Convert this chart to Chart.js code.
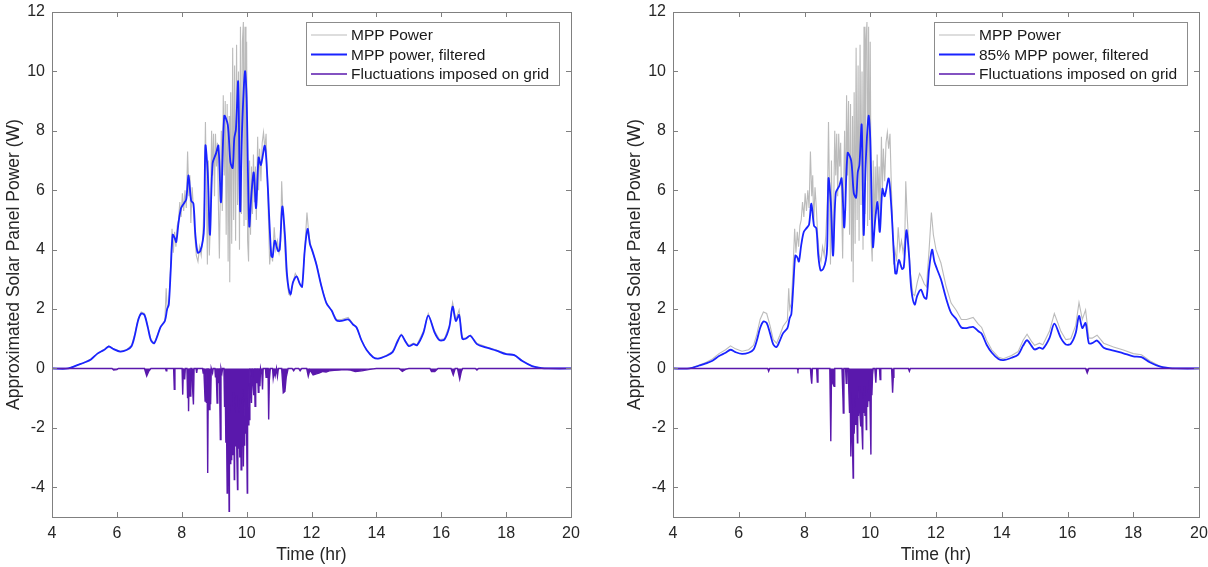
<!DOCTYPE html>
<html>
<head>
<meta charset="utf-8">
<script src="https://cdn.jsdelivr.net/npm/chart.js@4.4.0/dist/chart.umd.min.js"></script>
<style>
  body { margin: 0; background: #fff; }
  #wrap { position: relative; width: 1208px; height: 567px; }
  canvas { position: absolute; top: 0; }
</style>
</head>
<body>
<div id="wrap">
  <canvas id="left" width="604" height="567" style="left:0"></canvas>
  <canvas id="right" width="604" height="567" style="left:604px"></canvas>
</div>
<script>
// axis ticks
var xTicks = [4, 6, 8, 10, 12, 14, 16, 18, 20];
var yTicks = [-4, -2, 0, 2, 4, 6, 8, 10, 12];

// raw MPP power (same in both panels)
var mppTime = [
  4.0, 4.5, 4.8, 5.0, 5.2, 5.4, 5.6, 5.75, 5.9, 6.1,
  6.3, 6.45, 6.55, 6.65, 6.75, 6.85, 6.95, 7.05, 7.15, 7.25,
  7.35, 7.48, 7.52, 7.55, 7.6, 7.65, 7.7, 7.74, 7.78, 7.82,
  7.86, 7.9, 7.94, 7.98, 8.02, 8.06, 8.1, 8.14, 8.18, 8.22,
  8.25, 8.28, 8.32, 8.36, 8.4, 8.45, 8.5, 8.55, 8.6, 8.65,
  8.7, 8.73, 8.76, 8.79, 8.82, 8.85, 8.88, 8.92, 8.95, 8.98,
  9.01, 9.04, 9.07, 9.1, 9.13, 9.16, 9.19, 9.22, 9.25, 9.28,
  9.31, 9.34, 9.37, 9.4, 9.43, 9.46, 9.48, 9.51, 9.54, 9.57,
  9.6, 9.63, 9.66, 9.69, 9.72, 9.75, 9.78, 9.81, 9.84, 9.87,
  9.9, 9.92, 9.95, 9.98, 10.0, 10.03, 10.06, 10.09, 10.12, 10.15,
  10.18, 10.21, 10.24, 10.27, 10.3, 10.34, 10.37, 10.4, 10.44, 10.48,
  10.52, 10.56, 10.6, 10.64, 10.68, 10.71, 10.75, 10.8, 10.85, 10.9,
  10.95, 11.0, 11.05, 11.08, 11.12, 11.16, 11.22, 11.3, 11.35, 11.43,
  11.5, 11.55, 11.64, 11.71, 11.79, 11.86, 11.92, 12.0, 12.15, 12.31,
  12.46, 12.62, 12.77, 12.93, 13.13, 13.28, 13.39, 13.54, 13.7, 13.9,
  14.05, 14.3, 14.5, 14.65, 14.77, 14.9, 15.0, 15.15, 15.25, 15.45,
  15.6, 15.8, 15.95, 16.1, 16.25, 16.35, 16.45, 16.55, 16.65, 16.75,
  16.9, 17.1, 17.4, 17.7, 18.0, 18.25, 18.5, 18.8, 19.1, 19.3,
  20
];
var mppPower = [
  0, 0, 0.12, 0.2, 0.32, 0.5, 0.63, 0.76, 0.66, 0.58,
  0.63, 0.78, 1.15, 1.65, 1.9, 1.85, 1.45, 0.97, 0.85, 1.12,
  1.42, 1.62, 2.7, 2.0, 2.2, 3.3, 4.7, 3.9, 4.6, 4.1,
  4.8, 5.0, 5.6, 5.1, 5.9, 5.3, 6.0, 5.4, 7.3, 5.8,
  6.5, 4.9, 6.1, 5.4, 4.5, 3.8, 3.6, 4.1, 3.8, 4.5,
  5.8, 8.3, 6.0, 3.5, 7.0, 3.8, 4.8, 8.0, 6.5, 7.9,
  5.8, 7.9, 6.8, 7.6, 5.5, 3.7, 6.0, 8.0, 5.3, 9.2,
  6.5, 9.0, 4.5, 8.9, 3.6, 8.5, 2.9, 9.3, 4.2, 10.8,
  5.0, 10.2, 4.3, 10.9, 5.5, 10.0, 4.0, 11.5, 5.2, 11.0,
  11.66, 4.8, 11.5, 5.0, 11.0, 4.3, 3.6, 7.0, 4.5, 6.8,
  5.2, 7.2, 5.6, 6.8, 5.0, 7.8, 6.0, 7.4, 6.3, 7.6,
  7.95, 7.4, 7.9, 6.2, 4.8, 3.5, 4.0, 3.6, 4.75, 4.0,
  4.3, 3.9, 4.3, 6.3, 5.2, 4.4, 3.2, 2.5, 2.45, 2.9,
  3.2, 3.1, 2.85, 2.75, 4.0, 5.25, 4.5, 4.0, 3.55, 2.75,
  2.2, 1.95, 1.65, 1.65, 1.72, 1.5, 1.38, 0.95, 0.62, 0.38,
  0.33, 0.44, 0.57, 0.95, 1.15, 0.92, 0.78, 0.85, 0.8, 1.25,
  1.85, 1.25, 0.97, 1.0, 1.45, 2.22, 1.65, 1.97, 1.02, 1.02,
  1.12, 0.85, 0.72, 0.62, 0.5, 0.46, 0.26, 0.08, 0.01, 0,
  0
];

// filtered power: left = full MPP, right = 85% MPP
var filtTime = [
  4.0, 4.5, 4.8, 5.0, 5.2, 5.4, 5.6, 5.75, 5.9, 6.1,
  6.3, 6.45, 6.55, 6.65, 6.75, 6.85, 6.95, 7.05, 7.15, 7.25,
  7.35, 7.48, 7.55, 7.6, 7.66, 7.72, 7.78, 7.83, 7.9, 7.98,
  8.08, 8.14, 8.21, 8.29, 8.36, 8.42, 8.49, 8.57, 8.65, 8.69,
  8.73, 8.8, 8.87, 8.95, 9.06, 9.13, 9.21, 9.31, 9.42, 9.5,
  9.57, 9.62, 9.67, 9.74, 9.8, 9.86, 9.95, 10.0, 10.08, 10.15,
  10.22, 10.29, 10.37, 10.44, 10.56, 10.64, 10.7, 10.76, 10.8, 10.87,
  10.97, 11.02, 11.1, 11.18, 11.25, 11.35, 11.43, 11.54, 11.64, 11.71,
  11.79, 11.88, 11.95, 12.03, 12.15, 12.31, 12.46, 12.62, 12.77, 12.93,
  13.13, 13.28, 13.39, 13.54, 13.7, 13.9, 14.05, 14.3, 14.5, 14.65,
  14.77, 14.9, 15.0, 15.15, 15.25, 15.45, 15.6, 15.8, 15.95, 16.1,
  16.25, 16.35, 16.45, 16.55, 16.65, 16.75, 16.9, 17.1, 17.4, 17.7,
  18.0, 18.25, 18.5, 18.8, 19.1, 19.3, 20
];
var filtLeft = [
  0, 0, 0.12, 0.2, 0.3, 0.5, 0.62, 0.74, 0.65, 0.57,
  0.62, 0.75, 1.1, 1.6, 1.85, 1.8, 1.4, 0.95, 0.85, 1.1,
  1.4, 1.6, 2.0, 2.15, 3.3, 4.5, 4.4, 4.26, 4.9, 5.4,
  5.58, 5.7, 6.5, 5.65, 5.55, 4.5, 3.9, 3.95, 4.3, 4.8,
  7.5, 6.6, 4.5, 6.9, 7.25, 7.5, 5.6, 8.5, 8.2, 6.95,
  6.75, 7.75, 8.05, 9.65, 5.3, 8.05, 10.0, 9.1, 4.8, 5.9,
  6.6, 5.4, 7.1, 6.85, 7.5, 6.4, 5.0, 3.8, 3.75, 4.3,
  3.95, 4.0, 5.45, 4.5, 3.1, 2.5, 2.9, 3.1, 2.85, 2.75,
  3.95, 4.7, 4.2, 3.95, 3.5, 2.75, 2.2, 1.95, 1.62, 1.6,
  1.65, 1.48, 1.38, 0.95, 0.62, 0.38, 0.33, 0.42, 0.55, 0.9,
  1.12, 0.9, 0.75, 0.82, 0.78, 1.2, 1.78, 1.2, 0.95, 0.98,
  1.4, 2.08, 1.6, 1.8, 1.0, 1.0, 1.1, 0.82, 0.7, 0.6,
  0.48, 0.45, 0.25, 0.08, 0.01, 0, 0
];
var filtRight = [
  0, 0, 0.1, 0.17, 0.26, 0.42, 0.53, 0.63, 0.55, 0.49,
  0.53, 0.64, 0.94, 1.36, 1.58, 1.53, 1.19, 0.81, 0.72, 0.94,
  1.19, 1.36, 1.7, 1.83, 2.8, 3.8, 3.74, 3.6, 4.15, 4.6,
  4.75, 4.85, 5.55, 4.8, 4.72, 3.8, 3.3, 3.35, 3.65, 4.1,
  6.4, 5.6, 3.8, 5.9, 6.15, 6.4, 4.75, 7.25, 7.0, 5.9,
  5.75, 6.6, 6.85, 8.2, 4.5, 6.85, 8.5, 7.75, 4.1, 5.0,
  5.6, 4.6, 6.05, 5.8, 6.4, 5.45, 4.25, 3.2, 3.2, 3.65,
  3.35, 3.4, 4.65, 3.8, 2.65, 2.15, 2.45, 2.65, 2.4, 2.35,
  3.35, 4.0, 3.6, 3.35, 3.0, 2.35, 1.87, 1.66, 1.38, 1.36,
  1.4, 1.26, 1.17, 0.8, 0.53, 0.32, 0.28, 0.36, 0.47, 0.77,
  0.95, 0.77, 0.64, 0.7, 0.66, 1.02, 1.51, 1.02, 0.81, 0.83,
  1.19, 1.77, 1.36, 1.53, 0.85, 0.85, 0.94, 0.7, 0.6, 0.51,
  0.41, 0.38, 0.21, 0.07, 0.01, 0, 0
];

// fluctuations imposed on grid, left panel
var fluctLeftTime = [
  4.0, 5.85, 5.9, 6.0, 6.05, 6.85, 6.92, 6.98, 7.05, 7.5,
  7.52, 7.54, 7.75, 7.77, 7.79, 8.01, 8.03, 8.05, 8.09, 8.11,
  8.16, 8.18, 8.2, 8.21, 8.23, 8.26, 8.28, 8.31, 8.33, 8.36,
  8.38, 8.44, 8.46, 8.48, 8.64, 8.66, 8.68, 8.72, 8.74, 8.76,
  8.78, 8.8, 8.82, 8.85, 8.87, 8.89, 8.91, 8.95, 8.97, 9.02,
  9.04, 9.06, 9.09, 9.11, 9.14, 9.16, 9.19, 9.21, 9.24, 9.26,
  9.3, 9.32, 9.34, 9.36, 9.38, 9.4, 9.41, 9.43, 9.44, 9.46,
  9.47, 9.49, 9.51, 9.52, 9.54, 9.56, 9.57, 9.59, 9.6, 9.62,
  9.63, 9.65, 9.67, 9.68, 9.7, 9.72, 9.73, 9.75, 9.77, 9.79,
  9.8, 9.82, 9.83, 9.85, 9.87, 9.88, 9.9, 9.92, 9.94, 9.95,
  9.97, 9.99, 10.01, 10.02, 10.03, 10.05, 10.07, 10.08, 10.1, 10.13,
  10.15, 10.17, 10.2, 10.22, 10.24, 10.26, 10.28, 10.31, 10.33, 10.36,
  10.38, 10.41, 10.43, 10.47, 10.49, 10.51, 10.58, 10.6, 10.62, 10.66,
  10.68, 10.7, 10.73, 10.8, 10.82, 10.85, 10.88, 10.92, 10.95, 10.98,
  11.08, 11.13, 11.18, 11.22, 11.28, 11.4, 11.45, 11.5, 11.6, 11.65,
  11.7, 11.85, 11.9, 11.95, 12.05, 12.15, 12.25, 12.35, 12.45, 12.55,
  12.7, 12.85, 13.0, 13.2, 13.35, 13.55, 13.8, 14.0, 14.7, 14.8,
  14.9, 15.0, 15.65, 15.7, 15.8, 15.9, 16.3, 16.37, 16.43, 16.5,
  16.57, 16.62, 16.66, 17.05, 17.1, 17.15, 20
];
var fluctLeft = [
  0, 0, -0.05, -0.04, 0, 0, -0.25, -0.1, 0, 0,
  -0.08, 0, 0, -0.7, 0, 0, -0.88, 0, -0.37, 0,
  0, -1.0, -0.3, -1.44, 0, -0.93, 0, 0, -0.6, -1.21,
  0, 0, -0.15, 0, 0, -0.15, 0, -1.1, -0.6, -1.16,
  0, -3.52, 0, -1.38, -0.2, -1.2, 0, -0.15, 0, 0,
  -0.3, 0, -1.16, 0, -0.5, 0, -2.39, 0, -0.15, 0,
  0, -1.3, -0.6, -2.5, -1.8, -4.19, -1.5, -3.6, -2.0, -4.81,
  -1.2, -3.2, -1.5, -3.07, -0.9, -2.9, -1.3, -2.2, -0.8, -3.74,
  -1.4, -2.6, -2.3, -0.9, -3.0, -4.08, -1.3, -2.7, -1.5, -3.0,
  -1.0, -2.4, -3.41, -1.2, -2.6, -0.7, -3.3, -1.6, -2.6, -1.0,
  -2.2, -1.0, -3.2, -4.19, -1.3, -1.9, -0.5, -1.72, 0, -0.6,
  -1.16, 0, -0.5, -0.9, 0, -1.27, 0, -0.5, 0, -0.8,
  0, -0.6, 0, -0.2, -0.71, 0, 0, -0.3, 0, 0,
  -1.72, -0.4, 0, 0, -0.32, -0.1, -0.25, 0, -0.26, 0,
  0, -0.82, -0.77, -0.3, 0, 0, -0.08, 0, 0, -0.08,
  0, 0, -0.26, -0.05, -0.22, -0.18, -0.15, -0.1, -0.12, -0.08,
  -0.06, -0.05, -0.04, -0.05, -0.1, -0.08, -0.03, 0, 0, -0.1,
  -0.03, 0, 0, -0.1, -0.1, 0, 0, -0.22, 0, 0,
  -0.36, -0.1, 0, 0, -0.05, 0, 0
];

// fluctuations imposed on grid, right panel
var fluctRightTime = [
  4.0, 6.88, 6.91, 6.94, 7.78, 7.8, 7.82, 8.18, 8.2, 8.22,
  8.24, 8.37, 8.39, 8.41, 8.77, 8.8, 8.82, 8.86, 8.9, 8.92,
  9.14, 9.17, 9.18, 9.2, 9.25, 9.27, 9.29, 9.33, 9.35, 9.37,
  9.39, 9.41, 9.43, 9.45, 9.48, 9.49, 9.51, 9.54, 9.56, 9.58,
  9.61, 9.62, 9.64, 9.66, 9.68, 9.71, 9.72, 9.74, 9.77, 9.78,
  9.8, 9.82, 9.84, 9.86, 9.88, 9.89, 9.92, 9.94, 9.96, 9.98,
  10.0, 10.02, 10.03, 10.05, 10.07, 10.09, 10.14, 10.17, 10.19, 10.28,
  10.3, 10.32, 10.65, 10.68, 10.7, 10.72, 11.16, 11.19, 11.22, 16.55,
  16.6, 16.65, 20
];
var fluctRight = [
  0, 0, -0.09, 0, 0, -0.06, 0, 0, -0.3, -0.51,
  0, 0, -0.46, 0, 0, -2.45, -0.3, -0.5, -0.6, 0,
  0, -1.0, -1.5, 0, 0, -0.5, 0, 0, -0.8, -1.5,
  -0.8, -2.96, -1.2, -2.0, -3.69, -1.0, -2.2, -1.3, -1.9, -0.9,
  -2.5, -1.0, -1.6, -0.6, -1.4, -1.95, -0.8, -1.8, -2.73, -1.0,
  -1.5, -0.6, -1.6, -0.9, -2.06, -0.8, -1.3, -0.7, -1.1, -0.4,
  -1.6, -2.9, -0.6, -0.9, -0.2, 0, 0, -0.48, 0, 0,
  -0.37, 0, 0, -0.82, -0.3, 0, 0, -0.09, 0, 0,
  -0.15, 0, 0
];

var FONT = '"Liberation Sans", Arial, Helvetica, sans-serif';
var GRAY = 'rgba(120,120,120,0.5)';
var BLUE = 'rgb(25,35,255)';
var PURPLE = 'rgb(90,24,172)';
var TEXT = '#262626';

function pts(t, v) {
  return t.map(function (x, i) { return { x: x, y: v[i] }; });
}

// MATLAB style box with inward ticks on all four sides
var boxPlugin = {
  id: 'box',
  afterDraw: function (chart) {
    var ctx = chart.ctx, a = chart.chartArea;
    var xs = chart.scales.x, ys = chart.scales.y;
    ctx.save();
    ctx.strokeStyle = '#808080';
    ctx.lineWidth = 1;
    ctx.beginPath();
    xTicks.forEach(function (v) {
      var px = Math.round(xs.getPixelForValue(v)) + 0.5;
      ctx.moveTo(px, a.bottom); ctx.lineTo(px, a.bottom - 5);
      ctx.moveTo(px, a.top); ctx.lineTo(px, a.top + 5);
    });
    yTicks.forEach(function (v) {
      var py = Math.round(ys.getPixelForValue(v)) + 0.5;
      ctx.moveTo(a.left, py); ctx.lineTo(a.left + 5, py);
      ctx.moveTo(a.right, py); ctx.lineTo(a.right - 5, py);
    });
    ctx.stroke();
    ctx.strokeRect(Math.round(a.left) + 0.5, Math.round(a.top) + 0.5,
      Math.round(a.right - a.left), Math.round(a.bottom - a.top));
    ctx.restore();
  }
};

// legend drawn inside the axes, top right
var legendPlugin = {
  id: 'insideLegend',
  afterDraw: function (chart) {
    var ctx = chart.ctx, a = chart.chartArea, ds = chart.data.datasets;
    ctx.save();
    ctx.font = '15.5px ' + FONT;
    var w = 0;
    ds.forEach(function (d) { w = Math.max(w, ctx.measureText(d.label).width); });
    var bw = Math.round(45 + w + 10), bh = 63;
    var bx = Math.round(a.right - 12 - bw), by = Math.round(a.top + 10);
    ctx.fillStyle = '#fff';
    ctx.fillRect(bx, by, bw, bh);
    ctx.strokeStyle = '#8c8c8c';
    ctx.lineWidth = 1;
    ctx.strokeRect(bx + 0.5, by + 0.5, bw, bh);
    ds.forEach(function (d, i) {
      var y = by + 13 + i * 19.5;
      ctx.strokeStyle = d.borderColor;
      ctx.lineWidth = d.borderWidth;
      ctx.beginPath();
      ctx.moveTo(bx + 5, y);
      ctx.lineTo(bx + 41, y);
      ctx.stroke();
      ctx.fillStyle = '#1a1a1a';
      ctx.textBaseline = 'middle';
      ctx.fillText(d.label, bx + 45, y + 1);
    });
    ctx.restore();
  }
};

function makeChart(id, filt, fT, fV, blueLabel, padRight, yWidth, titlePad) {
  return new Chart(document.getElementById(id), {
    type: 'line',
    data: {
      datasets: [{
        label: 'MPP Power',
        data: pts(mppTime, mppPower),
        borderColor: GRAY,
        borderWidth: 1.1,
        order: 3
      }, {
        label: blueLabel,
        data: pts(filtTime, filt),
        borderColor: BLUE,
        borderWidth: 1.8,
        tension: 0.3,
        order: 2
      }, {
        label: 'Fluctuations imposed on grid',
        data: pts(fT, fV),
        borderColor: PURPLE,
        backgroundColor: PURPLE,
        borderWidth: 1.4,
        fill: 'origin',
        order: 1
      }]
    },
    options: {
      responsive: false,
      animation: false,
      events: [],
      layout: { padding: { left: 0, top: 12, right: padRight, bottom: 0 } },
      elements: { point: { radius: 0 }, line: { tension: 0 } },
      plugins: { legend: { display: false }, tooltip: { enabled: false } },
      scales: {
        x: {
          type: 'linear', min: 4, max: 20,
          afterBuildTicks: function (s) { s.ticks = xTicks.map(function (v) { return { value: v }; }); },
          afterFit: function (s) { s.height = 50; s.paddingLeft = 0; s.paddingRight = 0; },
          grid: { display: false, drawTicks: false },
          border: { display: false },
          ticks: { color: TEXT, font: { size: 16, family: FONT }, padding: 7, maxRotation: 0, autoSkip: false },
          title: { display: true, text: 'Time (hr)', color: TEXT, font: { size: 17.5, family: FONT }, padding: { top: 0, bottom: 1 } }
        },
        y: {
          type: 'linear', min: -5, max: 12,
          afterBuildTicks: function (s) { s.ticks = yTicks.map(function (v) { return { value: v }; }); },
          afterFit: function (s) { s.width = yWidth; s.paddingTop = 0; s.paddingBottom = 0; },
          grid: { display: false, drawTicks: false },
          border: { display: false },
          ticks: { color: TEXT, font: { size: 16, family: FONT }, padding: 7, autoSkip: false },
          title: { display: true, text: 'Approximated Solar Panel Power (W)', color: TEXT, font: { size: 17.5, family: FONT }, padding: { top: titlePad, bottom: 0 } }
        }
      }
    },
    plugins: [boxPlugin, legendPlugin]
  });
}

makeChart('left', filtLeft, fluctLeftTime, fluctLeft, 'MPP power, filtered', 33, 52, 4);
makeChart('right', filtRight, fluctRightTime, fluctRight, '85% MPP power, filtered', 9, 69, 21);
</script>
</body>
</html>
